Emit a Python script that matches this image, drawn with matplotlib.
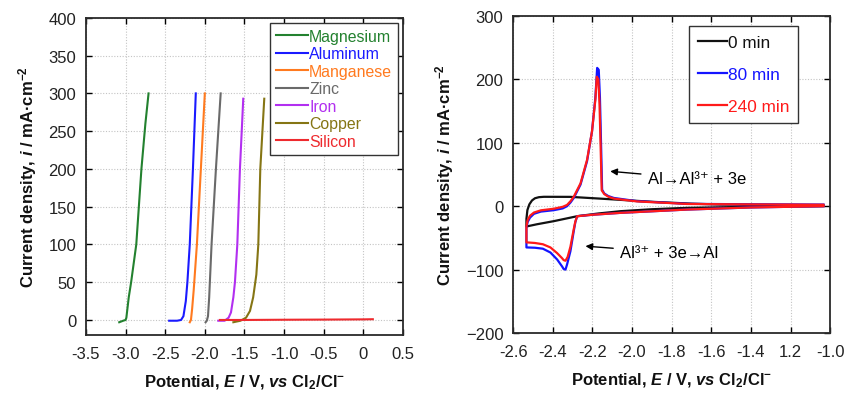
import matplotlib
matplotlib.use("Agg")
import matplotlib.pyplot as plt

plt.rcParams['font.family'] = ['Liberation Sans', 'DejaVu Sans']
plt.rcParams['mathtext.fontset'] = 'custom'
plt.rcParams['mathtext.it'] = 'Liberation Sans:italic:bold'
plt.rcParams['mathtext.rm'] = 'Liberation Sans'

# ---------------- Left panel data (LSV) ----------------
mg_E = [-3.08, -3.03, -3.0, -2.99, -2.96, -2.93, -2.865, -2.80, -2.75, -2.71]
mg_i = [-3, -1, 0, 3, 30, 50, 100, 200, 260, 300]
al_E = [-2.45, -2.35, -2.30, -2.27, -2.24, -2.22, -2.19, -2.15, -2.114]
al_i = [-1, -1, 0, 5, 25, 50, 100, 200, 300]
mn_E = [-2.19, -2.175, -2.16, -2.14, -2.10, -2.05, -2.0]
mn_i = [-3, 0, 15, 40, 100, 200, 300]
zn_E = [-1.99, -1.975, -1.96, -1.945, -1.915, -1.86, -1.80]
zn_i = [-3, -1, 5, 30, 100, 200, 300]
fe_E = [-1.83, -1.75, -1.70, -1.67, -1.64, -1.62, -1.59, -1.557, -1.515]
fe_i = [-1, -1, 3, 10, 30, 50, 100, 200, 293]
cu_E = [-1.64, -1.55, -1.48, -1.43, -1.39, -1.35, -1.325, -1.30, -1.25]
cu_i = [-3, -1, 3, 12, 30, 60, 100, 200, 293]
si_E = [-1.81, -1.5, -1.0, -0.5, 0.0, 0.12]
si_i = [0, 0, 0.3, 0.5, 0.8, 1.0]

metals = ["Magnesium", "Aluminum", "Manganese", "Zinc", "Iron", "Copper", "Silicon"]
metal_colors = ["#23812f", "#1a1aff", "#ff7a1f", "#6a6a6a", "#b22ff0", "#857514", "#ee2a2e"]
lsv_E = [mg_E, al_E, mn_E, zn_E, fe_E, cu_E, si_E]
lsv_i = [mg_i, al_i, mn_i, zn_i, fe_i, cu_i, si_i]

left_xticks = [-3.5, -3.0, -2.5, -2.0, -1.5, -1.0, -0.5, 0.0, 0.5]
left_xticklabels = ["-3.5", "-3.0", "-2.5", "-2.0", "-1.5", "-1.0", "-0.5", "0", "0.5"]
left_yticks = [0, 50, 100, 150, 200, 250, 300, 350, 400]

# ---------------- Right panel data (CV) ----------------
cv0_E = [-1.034, -1.40, -1.723, -1.90, -2.059, -2.17, -2.277, -2.395, -2.48, -2.533,
         -2.533, -2.528, -2.518, -2.505, -2.49, -2.47, -2.445, -2.311, -2.143,
         -1.891, -1.70, -1.555, -1.30, -1.034]
cv0_i = [0.0, -1.0, -2.6, -4.8, -7.9, -11.5, -15.8, -23.6, -28.5, -32,
         -20, -6, 3, 9, 12.5, 14.2, 14.8, 14.7, 11.6,
         6.8, 4.0, 2.6, 2.0, 1.6]

cv80_E = [-1.034, -1.40, -1.723, -2.059, -2.20, -2.277, -2.286, -2.294, -2.311, -2.328,
          -2.336, -2.345, -2.353, -2.378, -2.412, -2.45, -2.49, -2.533,
          -2.533, -2.527, -2.515, -2.495, -2.46, -2.395, -2.35, -2.328, -2.31, -2.294,
          -2.26, -2.227, -2.202, -2.185, -2.176, -2.168, -2.162, -2.158, -2.155,
          -2.151, -2.14, -2.12, -2.092, -1.975, -1.80, -1.723, -1.40, -1.034]
cv80_i = [0.0, -2.0, -5.3, -10.5, -13.5, -15.8, -25, -39, -71, -92,
          -100, -99, -95, -84, -73, -67, -65.5, -65,
          -34, -25, -18, -12, -8.5, -6.3, -3.5, 0, 6, 13,
          34, 71, 118, 171, 218, 215, 171, 120, 80,
          26, 20, 16, 13, 7.9, 5.0, 3.7, 3.0, 2.6]

cv240_E = [-1.034, -1.40, -1.723, -2.059, -2.20, -2.277, -2.286, -2.294, -2.311, -2.325,
           -2.336, -2.345, -2.353, -2.378, -2.412, -2.45, -2.49, -2.533,
           -2.533, -2.527, -2.515, -2.495, -2.46, -2.395, -2.35, -2.328, -2.31, -2.294,
           -2.26, -2.227, -2.202, -2.185, -2.178, -2.170, -2.164, -2.160, -2.157,
           -2.153, -2.14, -2.12, -2.092, -1.975, -1.80, -1.723, -1.40, -1.034]
cv240_i = [0.0, -2.0, -5.3, -10.5, -13.5, -15.8, -24, -36, -64, -80,
           -86, -85, -82, -74, -65, -60, -58, -57,
           -32, -22, -15, -10, -6.5, -4, -1, 2, 8, 15,
           36, 73, 118, 168, 204, 200, 160, 112, 75,
           25, 19, 15, 12, 7.5, 4.8, 3.5, 2.8, 2.3]

cv_labels = ["0 min", "80 min", "240 min"]
cv_colors = ["#111111", "#1414ff", "#ff1a1a"]
cv_E = [cv0_E, cv80_E, cv240_E]
cv_i = [cv0_i, cv80_i, cv240_i]

right_xticks = [-2.6, -2.4, -2.2, -2.0, -1.8, -1.6, -1.4, -1.2, -1.0]
right_xticklabels = ["-2.6", "-2.4", "-2.2", "-2.0", "-1.8", "-1.6", "-1.4", "1.2", "-1.0"]
right_yticks = [-200, -100, 0, 100, 200, 300]

# ---------------- Figure ----------------
fig = plt.figure(figsize=(8.51, 4.02), dpi=100)
axL = fig.add_axes([0.101, 0.164, 0.3725, 0.789])
axR = fig.add_axes([0.603, 0.169, 0.3725, 0.789])

xlabel = r"Potential, $\mathit{E}$ / V, $\mathit{vs}$ Cl$\mathregular{_2}$/Cl$\mathregular{^{-}}$"
ylabel = r"Current density, $\mathit{i}$ / mA·cm$\mathregular{^{-2}}$"

for ax in (axL, axR):
    ax.grid(True, linestyle=(0, (1, 1.5)), color="#c4c4c4", linewidth=0.8)
    ax.set_axisbelow(True)
    ax.tick_params(direction="in", top=True, right=True, length=4, width=1,
                   labelsize=12, labelcolor="#222222")
    ax.tick_params(axis="x", pad=8)
    ax.tick_params(axis="y", pad=7)
    for s in ax.spines.values():
        s.set_linewidth(1.3)
        s.set_color("#2a2a2a")
    ax.set_xlabel(xlabel, fontsize=12, fontweight="bold", labelpad=8, color="#111111")
    ax.set_ylabel(ylabel, fontsize=12, fontweight="bold", labelpad=7, color="#111111")

# Left
for name, c, E, i in zip(metals, metal_colors, lsv_E, lsv_i):
    axL.plot(E, i, color=c, lw=1.5, label=name)
axL.set_xlim(-3.5, 0.5)
axL.set_ylim(-20, 400)
axL.set_xticks(left_xticks)
axL.set_xticklabels(left_xticklabels)
axL.set_yticks(left_yticks)
legL = axL.legend(loc="upper right", fontsize=11.4, frameon=True, fancybox=False,
                  edgecolor="#333333", framealpha=1, handlelength=2.0,
                  handletextpad=0.08, labelspacing=0.16, borderpad=0.38,
                  borderaxespad=0.3)
legL.get_frame().set_linewidth(1.0)
for t, c in zip(legL.get_texts(), metal_colors):
    t.set_color(c)

# Right
for name, c, E, i in zip(cv_labels, cv_colors, cv_E, cv_i):
    axR.plot(E, i, color=c, lw=1.6, label=name)
axR.set_xlim(-2.6, -1.0)
axR.set_ylim(-200, 300)
axR.set_xticks(right_xticks)
axR.set_xticklabels(right_xticklabels)
axR.set_yticks(right_yticks)
legR = axR.legend(loc="upper right", bbox_to_anchor=(0.9, 0.968), fontsize=12.4,
                  frameon=True, fancybox=False,
                  edgecolor="#333333", framealpha=1, handlelength=1.7,
                  handletextpad=0.08, labelspacing=1.0, borderpad=0.5,
                  borderaxespad=0.0)
legR.get_frame().set_linewidth(1.0)
for t, c in zip(legR.get_texts(), cv_colors):
    t.set_color(c)

axR.annotate("Al→Al³⁺ + 3e", xy=(-2.11, 55), xytext=(-1.92, 43),
             fontsize=12, va="center", ha="left",
             arrowprops=dict(arrowstyle="-|>", color="black", lw=1.0,
                             mutation_scale=10, shrinkA=3, shrinkB=0))
axR.annotate("Al³⁺ + 3e→Al", xy=(-2.235, -63), xytext=(-2.06, -73),
             fontsize=12, va="center", ha="left",
             arrowprops=dict(arrowstyle="-|>", color="black", lw=1.0,
                             mutation_scale=10, shrinkA=3, shrinkB=0))

fig.savefig("out.png", dpi=100)
